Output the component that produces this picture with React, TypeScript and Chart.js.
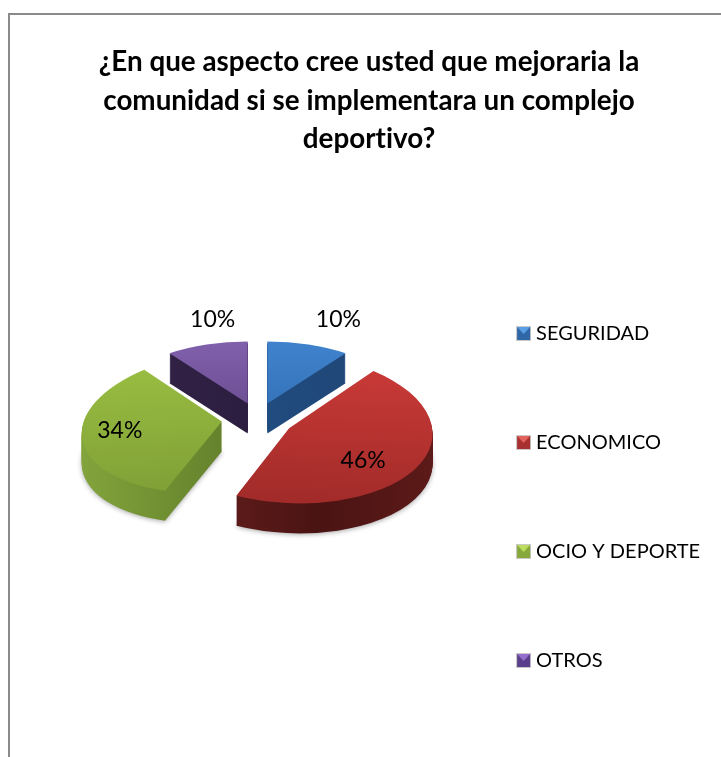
import React, { useEffect, useRef } from "react";
import { Chart, registerables } from "chart.js";

Chart.register(...registerables);

const TITLE_LINES = [
  "¿En que aspecto cree usted que mejoraria la",
  "comunidad si se implementara un complejo",
  "deportivo?",
];
const CATEGORIES = ["SEGURIDAD", "ECONOMICO", "OCIO Y DEPORTE", "OTROS"];
const VALUES = [10, 46, 34, 10];
const BASE_COLORS = ["#3572b8", "#b83331", "#8fb03e", "#6b4c94"];

const FONT = "Lato, 'Open Sans', sans-serif";
const DEPTH = 30;
const BASE_RADIUS = 140;
const EXPLODE = [32, 36, 36, 32];
const EXPLODE_TILT = 0.52;
const SCALE_X = [0.95, 1.025, 1.0, 0.95];
const SCALE_Y = [0.443, 0.535, 0.505, 0.443];
const SKEW_X = [0, 0, -0.041, 0];
const SKEW_Y = [0, 0.04, -0.064, 0];
const DRAW_ORDER = [3, 0, 2, 1];
const TOP_STOPS = [
  ["#3f82cd", "#2c66a8"],
  ["#cc3b38", "#a12b29"],
  ["#9bbf42", "#7f9f36"],
  ["#8060ab", "#5c4080"],
];
const SIDE_STOPS = [
  ["#25568f", "#204a7c", "#1f4674"],
  ["#6e2120", "#4a1413", "#5c1a18"],
  ["#83a43c", "#5f7c29", "#6b8c2e"],
  ["#352548", "#2a1c3e", "#2a1b3d"],
];
const SWATCH_COLORS = [
  ["#2f66a6", "#5a9fe6"],
  ["#a83030", "#e4625c"],
  ["#86a83c", "#bcdc5e"],
  ["#5c3f8a", "#9470cc"],
];
const LABEL_DX = [71, 74, -102, -35];
const LABEL_DY = [-84, 32, 9, -84];

function makeSwatch(base: string, light: string) {
  const c = document.createElement("canvas");
  c.width = 15;
  c.height = 15;
  const g = c.getContext("2d")!;
  g.fillStyle = "#c9c9c9";
  g.fillRect(0, 0, 15, 15);
  g.fillStyle = base;
  g.fillRect(1, 1, 13, 13);
  g.fillStyle = light;
  g.beginPath();
  g.moveTo(1, 1);
  g.lineTo(14, 1);
  g.lineTo(7.5, 8);
  g.closePath();
  g.fill();
  return c;
}

function sliceOrigin(arc: any, i: number) {
  const mid = (arc.startAngle + arc.endAngle) / 2;
  return {
    x: arc.x + EXPLODE[i] * Math.cos(mid),
    y: arc.y + EXPLODE[i] * Math.sin(mid) * EXPLODE_TILT,
  };
}

function drawFace(ctx: CanvasRenderingContext2D, arc: any, i: number, lift: number, fill: CanvasGradient) {
  const o = sliceOrigin(arc, i);
  const original = arc.options;
  const styled = Object.create(original);
  styled.backgroundColor = fill;
  arc.options = styled;
  ctx.save();
  ctx.translate(o.x, o.y + lift);
  ctx.transform(SCALE_X[i], SKEW_Y[i], SKEW_X[i], SCALE_Y[i], 0, 0);
  ctx.translate(-arc.x, -arc.y);
  arc.draw(ctx);
  ctx.restore();
  arc.options = original;
}

const pie3d = {
  id: "pie3d",
  afterLayout(chart: any) {
    chart.titleBlock.left -= 27.5;
    chart.titleBlock.right -= 27.5;
    chart.legend.top += 163;
    chart.legend.bottom += 163;
    chart.legend.left -= 1;
    chart.legend.right -= 1;
  },
  beforeDraw(chart: any) {
    const ctx = chart.ctx;
    ctx.save();
    ctx.strokeStyle = "#8a8a8a";
    ctx.lineWidth = 2;
    ctx.beginPath();
    ctx.moveTo(9, 757);
    ctx.lineTo(9, 14);
    ctx.lineTo(721, 14);
    ctx.stroke();
    ctx.restore();
    (ctx as any).letterSpacing = "0.01px";
  },
  beforeDatasetDraw(chart: any, args: any) {
    const ctx: CanvasRenderingContext2D = chart.ctx;
    const arcs = args.meta.data;
    for (const i of DRAW_ORDER) {
      const arc = arcs[i];
      const side = ctx.createLinearGradient(arc.x - BASE_RADIUS, 0, arc.x + BASE_RADIUS, 0);
      side.addColorStop(0, SIDE_STOPS[i][0]);
      side.addColorStop(0.6, SIDE_STOPS[i][1]);
      side.addColorStop(1, SIDE_STOPS[i][2]);
      for (let d = DEPTH; d >= 1; d--) {
        ctx.save();
        if (d === DEPTH && (i === 1 || i === 2)) {
          ctx.shadowColor = "rgba(0,0,0,0.35)";
          ctx.shadowBlur = 5;
          ctx.shadowOffsetY = 1;
        }
        drawFace(ctx, arc, i, d, side);
        ctx.restore();
      }
      const top = ctx.createLinearGradient(0, arc.y - BASE_RADIUS, 0, arc.y + BASE_RADIUS);
      top.addColorStop(0, TOP_STOPS[i][0]);
      top.addColorStop(1, TOP_STOPS[i][1]);
      drawFace(ctx, arc, i, 0, top);
    }
    return false;
  },
  afterDatasetsDraw(chart: any) {
    const ctx: CanvasRenderingContext2D = chart.ctx;
    const arcs = chart.getDatasetMeta(0).data;
    const total = VALUES.reduce((a, b) => a + b, 0);
    ctx.save();
    ctx.fillStyle = "#000";
    ctx.font = `23px ${FONT}`;
    ctx.textAlign = "center";
    ctx.textBaseline = "middle";
    VALUES.forEach((v, i) => {
      const o = sliceOrigin(arcs[i], i);
      ctx.fillText(`${Math.round((v / total) * 100)}%`, o.x + LABEL_DX[i], o.y + LABEL_DY[i]);
    });
    ctx.restore();
  },
};

export default function App() {
  const ref = useRef<HTMLCanvasElement | null>(null);
  useEffect(() => {
    const swatches = SWATCH_COLORS.map(([b, l]) => makeSwatch(b, l));
    const chart = new Chart(ref.current!, {
      type: "pie",
      data: {
        labels: CATEGORIES,
        datasets: [{ data: VALUES, backgroundColor: BASE_COLORS, borderWidth: 0, radius: BASE_RADIUS }],
      },
      options: {
        animation: false,
        responsive: false,
        devicePixelRatio: 1,
        layout: { padding: { left: 82, right: 10, top: 0, bottom: 89 } },
        plugins: {
          title: {
            display: true,
            text: TITLE_LINES,
            color: "#000",
            font: { family: FONT, size: 27.8, weight: "bold", lineHeight: 1.385 },
            padding: { top: 43, bottom: 12 },
          },
          legend: {
            position: "right",
            labels: {
              color: "#000",
              font: { family: FONT, size: 20 },
              padding: 89,
              boxWidth: 5,
              boxHeight: 15,
              usePointStyle: true,
              generateLabels: () =>
                CATEGORIES.map((text, i) => ({
                  text,
                  fillStyle: BASE_COLORS[i],
                  strokeStyle: BASE_COLORS[i],
                  fontColor: "#000",
                  lineWidth: 0,
                  pointStyle: swatches[i],
                  hidden: false,
                  index: i,
                })),
            },
          },
          tooltip: { enabled: false },
        },
      } as any,
      plugins: [pie3d as any],
    });
    return () => chart.destroy();
  }, []);
  return (
    <canvas
      ref={ref}
      width={721}
      height={757}
      style={{ position: "absolute", left: 0, top: 0, display: "block", width: 721, height: 757 }}
    />
  );
}
